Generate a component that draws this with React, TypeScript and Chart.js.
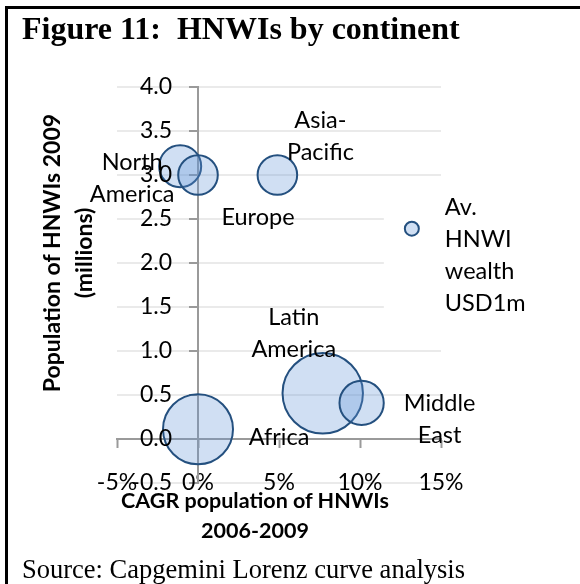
import React, { useEffect, useRef } from "react";
import { Chart, registerables } from "chart.js";

Chart.register(...registerables);

// ---- data ----
const regions = [
  "North America",
  "Europe",
  "Asia-Pacific",
  "Latin America",
  "Middle East",
  "Africa",
  "Av. HNWI wealth USD1m",
];
const labelLines = [
  ["North", "America"],
  ["Europe"],
  ["Asia-", "Pacific"],
  ["Latin", "America"],
  ["Middle", "East"],
  ["Africa"],
  ["Av.", "HNWI", "wealth", "USD1m"],
];
const cagrPct = [-1.1, 0.0, 4.9, 7.7, 10.1, 0.0, 13.2];
const hnwiMillions = [3.1, 3.0, 3.0, 0.52, 0.41, 0.11, 2.39];
const avgWealthUsdM = [9, 8, 8, 33, 10, 25, 1];
const xTickValues = [-5, 0, 5, 10, 15];
const yTickValues = [-0.5, 0, 0.5, 1, 1.5, 2, 2.5, 3, 3.5, 4];

// ---- layout / style (not data) ----
const LABEL_LAYOUT = [
  { dx: -48, dy: 4, align: "center" },
  { dx: 60, dy: 50, align: "center" },
  { dx: 43, dy: -47, align: "center" },
  { dx: -29, dy: -68, align: "center" },
  { dx: 78, dy: 8, align: "center" },
  { dx: 81, dy: 16, align: "center" },
  { dx: 33, dy: -14, align: "left" },
];
const FONT = "Lato";
const LINE_GAP = 32;
const TICK_SIZE = 23;

const labelPlugin = {
  id: "bubbleLabels",
  beforeDatasetsDraw(chart: any) {
    const ctx = chart.ctx;
    const meta = chart.getDatasetMeta(0);
    const el = meta.data[6];
    if (!el) return;
    ctx.save();
    ctx.fillStyle = "#ffffff";
    ctx.fillRect(el.x - 28, el.y - 45, 200, 155);
    ctx.restore();
  },
  afterDatasetsDraw(chart: any) {
    const ctx = chart.ctx;
    const meta = chart.getDatasetMeta(0);
    ctx.save();
    ctx.font = `23.5px ${FONT}`;
    ctx.fillStyle = "#000";
    ctx.textBaseline = "alphabetic";
    meta.data.forEach((el: any, i: number) => {
      const lay = LABEL_LAYOUT[i];
      ctx.textAlign = lay.align;
      labelLines[i].forEach((line, j) => {
        ctx.fillText(line, el.x + lay.dx, el.y + lay.dy + j * LINE_GAP);
      });
    });
    ctx.restore();
  },
  afterDraw(chart: any) {
    // y tick labels, placed beside the y axis that crosses at x = 0
    const ctx = chart.ctx;
    const ys = chart.scales.y;
    const xs = chart.scales.x;
    const axisX = xs.getPixelForValue(0);
    ctx.save();
    ctx.font = `${TICK_SIZE}px ${FONT}`;
    ctx.fillStyle = "#000";
    ctx.textAlign = "right";
    ctx.textBaseline = "middle";
    ys.ticks.forEach((t: any) => {
      ctx.fillText(Number(t.value).toFixed(1), axisX - 26, ys.getPixelForValue(t.value));
    });
    ctx.restore();
  },
};

export default function App() {
  const ref = useRef<HTMLCanvasElement>(null);
  useEffect(() => {
    if (!ref.current) return;
    const chart = new Chart(ref.current, {
      type: "bubble",
      data: {
        datasets: [
          {
            label: "HNWIs",
            data: regions.map((_, i) => ({
              x: cagrPct[i],
              y: hnwiMillions[i],
              r: 7 * Math.sqrt(avgWealthUsdM[i]),
            })),
            backgroundColor: "rgba(100,150,215,0.3)",
            borderColor: "#24507f",
            borderWidth: 2,
          },
        ],
      },
      options: {
        responsive: false,
        animation: false,
        layout: { padding: { left: 117, right: 139, top: 87, bottom: 101 } },
        plugins: { legend: { display: false }, tooltip: { enabled: false } },
        scales: {
          x: {
            type: "linear",
            min: -5,
            max: 15,
            position: { y: 0 } as any,
            afterBuildTicks: (s: any) => {
              s.ticks = xTickValues.map((v) => ({ value: v }));
            },
            ticks: {
              callback: (v: any) => `${v}%`,
              font: { family: FONT, size: TICK_SIZE },
              color: "#000",
              padding: 22,
              maxRotation: 0,
            },
            grid: {
              display: true,
              drawOnChartArea: false,
              drawTicks: true,
              tickLength: 8,
              tickColor: "#9a9a9a",
              tickWidth: 2,
            },
            border: { display: true, color: "#9a9a9a", width: 2 },
          },
          y: {
            type: "linear",
            min: -0.5,
            max: 4,
            position: { x: 0 } as any,
            afterBuildTicks: (s: any) => {
              s.ticks = yTickValues.map((v) => ({ value: v }));
            },
            ticks: { display: false },
            grid: {
              color: "#eaeaea",
              lineWidth: 2,
              drawTicks: true,
              tickLength: 8,
              tickColor: "#9a9a9a",
              tickWidth: 2,
            },
            border: { display: true, color: "#9a9a9a", width: 2 },
          },
        },
      },
      plugins: [labelPlugin],
    });
    return () => chart.destroy();
  }, []);

  const base: React.CSSProperties = { position: "absolute", margin: 0, color: "#000" };
  return (
    <div style={{ position: "absolute", left: 0, top: 0, width: 580, height: 584, background: "#fff", overflow: "hidden" }}>
      <div style={{ position: "absolute", left: 5, top: 6, width: 600, height: 600, borderTop: "3px solid #000", borderLeft: "3px solid #000" }} />
      <canvas ref={ref} width={580} height={584} style={{ position: "absolute", left: 0, top: 0, width: 580, height: 584 }} />
      <div style={{ ...base, left: 22, top: 12, fontFamily: "'Liberation Serif', serif", fontWeight: "bold", fontSize: 32, lineHeight: "32px", whiteSpace: "nowrap" }}>
        Figure 11:&nbsp; HNWIs by continent
      </div>
      <div style={{ ...base, left: 55, top: 485, width: 400, textAlign: "center", fontFamily: FONT, fontWeight: "bold", fontSize: 21.5, lineHeight: "30px" }}>
        CAGR population of HNWIs
        <br />
        2006-2009
      </div>
      <div style={{ ...base, left: -93, top: 221, width: 320, height: 64, textAlign: "center", fontFamily: FONT, fontWeight: "bold", fontSize: 23, lineHeight: "32px", transform: "rotate(-90deg)", transformOrigin: "center" }}>
        Population of HNWIs 2009
        <br />
        (millions)
      </div>
      <div style={{ ...base, left: 22, top: 556, fontFamily: "'Liberation Serif', serif", fontSize: 26.5, lineHeight: "26px", whiteSpace: "nowrap" }}>
        Source: Capgemini Lorenz curve analysis
      </div>
    </div>
  );
}
